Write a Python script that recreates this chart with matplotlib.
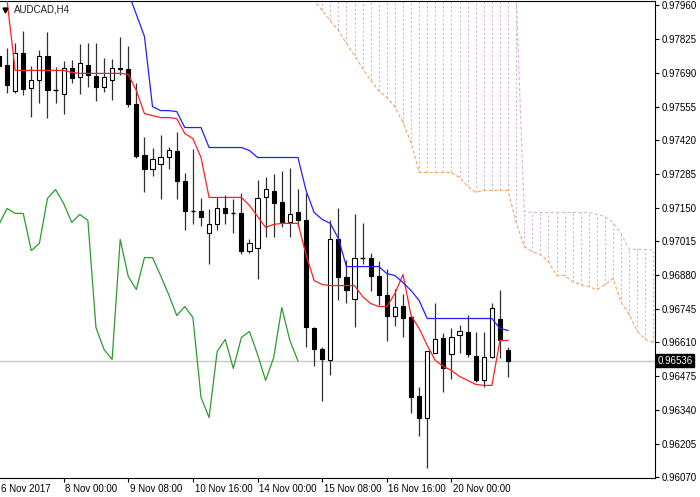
import numpy as np
import matplotlib
matplotlib.use("Agg")
import matplotlib.pyplot as plt
from matplotlib.patches import Rectangle
from matplotlib.transforms import blended_transform_factory

plt.rcParams['font.family'] = ['Liberation Sans', 'DejaVu Sans']

# --- Data: AUDCAD H4 candles ---
opens = [0.97756, 0.97720, 0.97619, 0.97768, 0.97631, 0.97660, 0.97756, 0.97624,
         0.97607, 0.97708, 0.97672, 0.97720, 0.97676, 0.97635, 0.97660, 0.97708,
         0.97704, 0.97567, 0.97363, 0.97303, 0.97323, 0.97355, 0.97379, 0.97255,
         0.97136, 0.97135, 0.97047, 0.97083, 0.97147, 0.97128, 0.97127, 0.96978,
         0.96987, 0.97191, 0.97215, 0.97171, 0.97091, 0.97131, 0.97099, 0.96666,
         0.96582, 0.96538, 0.97023, 0.96874, 0.96786, 0.96951, 0.96950, 0.96878,
         0.96802, 0.96718, 0.96758, 0.96714, 0.96394, 0.96309, 0.96566, 0.96626,
         0.96562, 0.96638, 0.96650, 0.96554, 0.96458, 0.96550, 0.96706, 0.96578]
highs = [0.97780, 0.97788, 0.97808, 0.97856, 0.97716, 0.97780, 0.97852, 0.97712,
         0.97736, 0.97740, 0.97804, 0.97808, 0.97808, 0.97748, 0.97744, 0.97832,
         0.97796, 0.97648, 0.97435, 0.97391, 0.97443, 0.97395, 0.97455, 0.97287,
         0.97387, 0.97187, 0.97143, 0.97191, 0.97199, 0.97183, 0.97207, 0.97023,
         0.97259, 0.97271, 0.97283, 0.97295, 0.97307, 0.97223, 0.97207, 0.96670,
         0.96590, 0.97099, 0.97147, 0.96942, 0.97123, 0.97087, 0.96970, 0.96938,
         0.96906, 0.96826, 0.96806, 0.96722, 0.96430, 0.96574, 0.96770, 0.96646,
         0.96666, 0.96678, 0.96722, 0.96650, 0.96650, 0.96770, 0.96822, 0.96590]
lows = [0.97692, 0.97611, 0.97611, 0.97603, 0.97515, 0.97571, 0.97511, 0.97571,
        0.97527, 0.97648, 0.97607, 0.97635, 0.97579, 0.97615, 0.97583, 0.97680,
        0.97555, 0.97351, 0.97211, 0.97275, 0.97183, 0.97303, 0.97183, 0.97059,
        0.97083, 0.97075, 0.96926, 0.97059, 0.97083, 0.97047, 0.96966, 0.96970,
        0.96866, 0.97031, 0.97031, 0.97071, 0.97031, 0.97071, 0.96590, 0.96514,
        0.96374, 0.96478, 0.96782, 0.96770, 0.96670, 0.96926, 0.96818, 0.96762,
        0.96614, 0.96674, 0.96630, 0.96326, 0.96237, 0.96109, 0.96566, 0.96410,
        0.96462, 0.96566, 0.96550, 0.96450, 0.96430, 0.96546, 0.96546, 0.96470]
closes = [0.97716, 0.97643, 0.97768, 0.97627, 0.97660, 0.97756, 0.97623, 0.97623,
          0.97708, 0.97668, 0.97728, 0.97680, 0.97635, 0.97672, 0.97708, 0.97704,
          0.97567, 0.97359, 0.97303, 0.97347, 0.97355, 0.97383, 0.97255, 0.97135,
          0.97135, 0.97111, 0.97083, 0.97147, 0.97127, 0.97127, 0.96978, 0.97007,
          0.97187, 0.97223, 0.97167, 0.97091, 0.97123, 0.97099, 0.96670, 0.96582,
          0.96542, 0.97023, 0.96874, 0.96822, 0.96950, 0.96950, 0.96878, 0.96802,
          0.96718, 0.96754, 0.96710, 0.96390, 0.96309, 0.96574, 0.96622, 0.96506,
          0.96630, 0.96654, 0.96562, 0.96458, 0.96550, 0.96750, 0.96618, 0.96536]

# Ichimoku lines
tenkan = [0.98220, 0.97980, 0.97700, 0.97700, 0.97700, 0.97700, 0.97700, 0.97700,
          0.97700, 0.97692, 0.97688, 0.97688, 0.97688, 0.97688, 0.97688, 0.97688,
          0.97684, 0.97619, 0.97527, 0.97519, 0.97511, 0.97511, 0.97507, 0.97447,
          0.97427, 0.97351, 0.97191, 0.97191, 0.97191, 0.97191, 0.97191, 0.97159,
          0.97115, 0.97071, 0.97083, 0.97087, 0.97087, 0.97087, 0.96962, 0.96858,
          0.96842, 0.96838, 0.96838, 0.96838, 0.96838, 0.96794, 0.96766, 0.96754,
          0.96754, 0.96806, 0.96882, 0.96718, 0.96666, 0.96598, 0.96538, 0.96514,
          0.96498, 0.96474, 0.96458, 0.96442, 0.96438, 0.96438, 0.96618, 0.96618]
kijun = [np.nan] * 16 + [
         0.98012, 0.97924, 0.97836, 0.97555, 0.97539, 0.97539, 0.97535, 0.97471,
         0.97471, 0.97471, 0.97391, 0.97391, 0.97391, 0.97391, 0.97391, 0.97379,
         0.97351, 0.97351, 0.97351, 0.97351, 0.97351, 0.97351, 0.97219, 0.97131,
         0.97103, 0.97087, 0.97027, 0.96914, 0.96914, 0.96914, 0.96914, 0.96914,
         0.96886, 0.96878, 0.96850, 0.96818, 0.96778, 0.96706, 0.96706, 0.96706,
         0.96706, 0.96706, 0.96706, 0.96706, 0.96706, 0.96706, 0.96666, 0.96658]
# cloud, starting at bar 38 and running 26 bars past the last candle
span_a = [0.98020, 0.97980, 0.97940, 0.97900, 0.97860, 0.97808, 0.97760, 0.97708,
          0.97660, 0.97619, 0.97591, 0.97555, 0.97491, 0.97411, 0.97291, 0.97291,
          0.97291, 0.97291, 0.97291, 0.97271, 0.97235, 0.97211, 0.97219, 0.97219,
          0.97219, 0.97219, 0.97091, 0.96994, 0.96974, 0.96962, 0.96934, 0.96878,
          0.96878, 0.96854, 0.96842, 0.96834, 0.96822, 0.96842, 0.96866, 0.96770,
          0.96722, 0.96654, 0.96622, 0.96610]
span_b = [0.98200] * 26 + [
          0.98000, 0.97135, 0.97131, 0.97131, 0.97131, 0.97131, 0.97131, 0.97131,
          0.97131, 0.97131, 0.97123, 0.97115, 0.97091, 0.97046, 0.96983, 0.96983,
          0.96983, 0.96981]
cloud_start = 38

x_labels = ["6 Nov 2017", "8 Nov 00:00", "9 Nov 08:00", "10 Nov 16:00",
            "14 Nov 00:00", "15 Nov 08:00", "16 Nov 16:00", "20 Nov 00:00"]
bars_per_label = 8
y_ticks = [0.97960, 0.97825, 0.97690, 0.97555, 0.97420, 0.97285, 0.97150,
           0.97015, 0.96880, 0.96745, 0.96610, 0.96475, 0.96340, 0.96205, 0.96070]
last_price = closes[-1]

# --- Plot ---
fig = plt.figure(figsize=(7.0, 4.97), dpi=100)
ax = fig.add_axes([0.0, 19 / 497, 655 / 700, 477.5 / 497])
ax.set_facecolor('white')

n = len(closes)
idx = np.arange(n)

# cloud hatching (vertical dotted lines) and its borders
cidx = np.arange(cloud_start, cloud_start + len(span_a))
ax.vlines(cidx, span_a, span_b, colors='#d8b4d8', linewidth=0.8,
          linestyles=(0, (2, 2)), zorder=1)
ax.plot(cidx, span_b, color='#d8b4d8', lw=0.8, ls=(0, (3, 2)), zorder=2)
ax.plot(cidx, span_a, color='#f4a460', lw=0.8, ls=(0, (3, 2)), zorder=2)

# current price line
ax.axhline(last_price, color='#c8c8c8', lw=1.0, zorder=1)

# chikou span: closes shifted back 26 bars
ax.plot(idx[:n - 26], closes[26:], color='#2e9a2e', lw=0.9, zorder=3)

# candles
w = 0.52
for i in range(n):
    o, h, l, c = opens[i], highs[i], lows[i], closes[i]
    ax.vlines(i, l, h, color='#303030', lw=0.9, zorder=4)
    bottom, top = min(o, c), max(o, c)
    face = 'white' if c > o else 'black'
    if top - bottom < 0.00002:
        ax.hlines(c, i - w / 2, i + w / 2, color='black', lw=1.0, zorder=5)
    else:
        ax.add_patch(Rectangle((i - w / 2, bottom), w, top - bottom,
                               facecolor=face, edgecolor='black', lw=0.8,
                               zorder=5))

# tenkan / kijun
ax.plot(idx, tenkan, color='#ff2020', lw=0.9, zorder=6)
ax.plot(idx, kijun, color='#2020ff', lw=0.9, zorder=6)

# axes limits: 8.08 px per bar
ax.set_xlim(0.124, 81.19)
ax.set_ylim(0.96067, 0.97980)

ax.spines['left'].set_visible(False)
for side in ['top', 'right', 'bottom']:
    ax.spines[side].set_color('black')
    ax.spines[side].set_linewidth(0.8)

ax.yaxis.tick_right()
ax.set_yticks(y_ticks)
ax.set_yticklabels([f'{v:.5f}' for v in y_ticks])
ax.tick_params(axis='y', direction='out', length=3, width=0.8, pad=2,
               labelsize=7, colors='black')

label_idx = [k * bars_per_label for k in range(len(x_labels))]
ax.set_xticks(label_idx[1:])
ax.set_xticklabels([''] * (len(label_idx) - 1))
ax.tick_params(axis='x', direction='out', length=3, width=0.8, colors='black')
for k, lab in zip(label_idx, x_labels):
    ax.annotate(lab, xy=(k, 0), xycoords=('data', 'axes fraction'),
                xytext=(1.2, -4.0), textcoords='offset points',
                ha='left', va='top', fontsize=7, color='black',
                annotation_clip=False)

# price label box
tr = blended_transform_factory(ax.transAxes, ax.transData)
ax.text(1.004, last_price, f'{last_price:.5f}', transform=tr, ha='left',
        va='center', fontsize=7, color='white', zorder=10,
        bbox=dict(boxstyle='square,pad=0.15', facecolor='black',
                  edgecolor='black'))

# symbol title
ax.plot([0.008], [0.981], marker='v', color='black', ms=3.5,
        transform=ax.transAxes, clip_on=False, zorder=10)
ax.text(0.022, 0.981, 'AUDCAD,H4', transform=ax.transAxes, ha='left',
        va='center', fontsize=7, color='#202020', zorder=10)

fig.savefig('out.png', dpi=100, facecolor='white')
